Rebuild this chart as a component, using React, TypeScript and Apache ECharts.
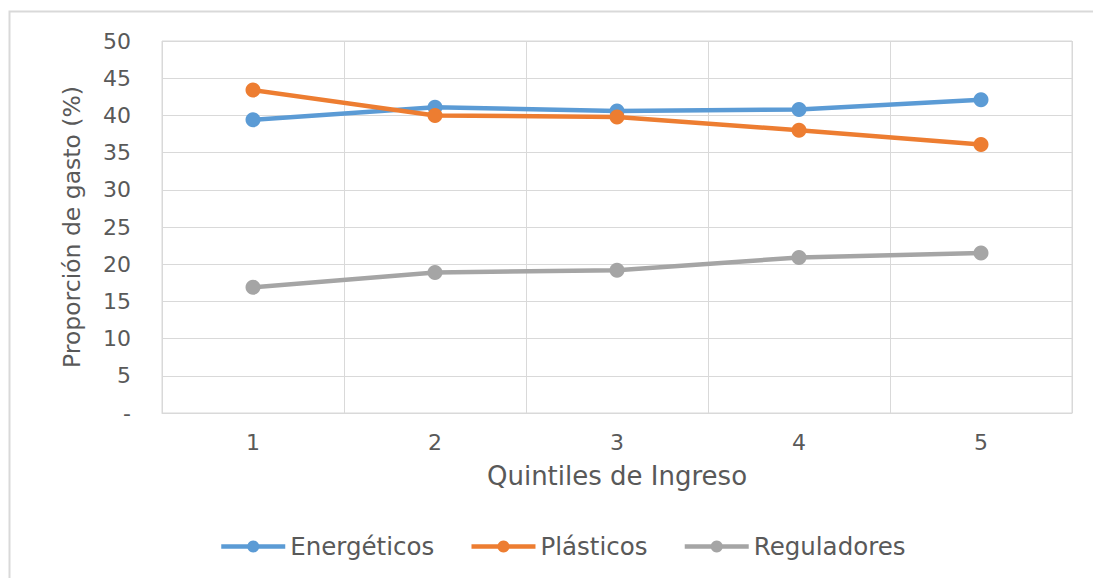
import React, { useEffect, useRef } from "react";
import * as echarts from "echarts";

const categories = ["1", "2", "3", "4", "5"];
const energeticos = [39.4, 41.1, 40.6, 40.8, 42.1];
const plasticos = [43.4, 40.0, 39.8, 38.0, 36.1];
const reguladores = [16.9, 18.9, 19.2, 20.9, 21.5];
const seriesNames = ["Energéticos", "Plásticos", "Reguladores"];
const seriesColors = ["#5B9BD5", "#ED7D31", "#A5A5A5"];

const FONT = "DejaVu Sans, Liberation Sans, Arial, sans-serif";
const TEXT = "#595959";
const GRIDC = "#D9D9D9";

export default function App() {
  const ref = useRef<HTMLDivElement>(null);
  useEffect(() => {
    if (!ref.current) return;
    const chart = echarts.init(ref.current, undefined, { renderer: "svg" });
    const data = [energeticos, plasticos, reguladores];
    chart.setOption({
      animation: false,
      backgroundColor: "#FFFFFF",
      textStyle: { fontFamily: FONT },
      graphic: [
        {
          type: "rect",
          shape: { x: 9.5, y: 11.5, width: 1200, height: 700 },
          style: { fill: "none", stroke: GRIDC, lineWidth: 2 },
          silent: true,
        },
      ],
      grid: {
        left: 162,
        right: 21,
        top: 41,
        bottom: 165,
        show: true,
        borderColor: GRIDC,
        borderWidth: 1,
      },
      legend: {
        top: 529,
        left: 214,
        itemWidth: 64,
        itemHeight: 15,
        itemGap: 35,
        lineStyle: { width: 4.5 },
        textStyle: { color: TEXT, fontSize: 24.5, fontFamily: FONT },
        data: seriesNames,
      },
      xAxis: {
        type: "category",
        data: categories,
        boundaryGap: true,
        name: "Quintiles de Ingreso",
        nameLocation: "middle",
        nameGap: 50,
        nameTextStyle: { color: TEXT, fontSize: 26, fontFamily: FONT },
        axisLine: { show: true, lineStyle: { color: GRIDC, width: 1 } },
        axisTick: { show: false },
        axisLabel: { color: TEXT, fontSize: 22, fontFamily: FONT, margin: 18 },
        splitLine: { show: true, lineStyle: { color: GRIDC, width: 1 } },
      },
      yAxis: {
        type: "value",
        min: 0,
        max: 50,
        interval: 5,
        name: "Proporción de gasto (%)",
        nameLocation: "middle",
        nameGap: 78,
        nameTextStyle: { color: TEXT, fontSize: 23.5, fontFamily: FONT },
        axisLine: { show: false },
        axisTick: { show: false },
        axisLabel: {
          color: TEXT,
          fontSize: 22,
          fontFamily: FONT,
          margin: 31,
          formatter: (v: number) => (v === 0 ? "-" : String(v)),
        },
        splitLine: { show: true, lineStyle: { color: GRIDC, width: 1 } },
      },
      series: seriesNames.map((name, i) => ({
        name,
        type: "line",
        data: data[i],
        symbol: "circle",
        symbolSize: 15,
        color: seriesColors[i],
        lineStyle: { width: 4.5, color: seriesColors[i] },
        itemStyle: { color: seriesColors[i] },
      })),
    });
    return () => chart.dispose();
  }, []);
  return (
    <div
      ref={ref}
      style={{ position: "fixed", left: 0, top: 0, width: 1093, height: 578 }}
    />
  );
}
